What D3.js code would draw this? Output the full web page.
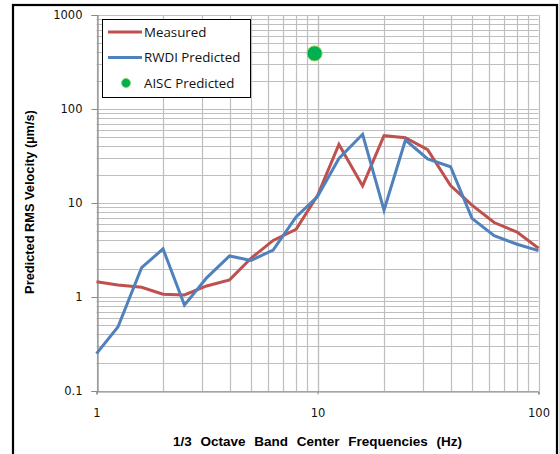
<!DOCTYPE html>
<html>
<head>
<meta charset="utf-8">
<script src="https://cdn.jsdelivr.net/npm/d3@7"></script>
<style>
body { margin: 0; background: #fff; }
</style>
</head>
<body>
<svg id="chart"></svg>
<script>
var width = 559,
	height = 454;
var margin = ({top: 15, right: 20, bottom: 63, left: 96.5});

// 1/3 octave band centre frequencies (Hz)
var freqs = [1, 1.25, 1.6, 2, 2.5, 3.15, 4, 5, 6.3, 8, 10, 12.5, 16, 20, 25, 31.5, 40, 50, 63, 80, 100];
// RMS velocity (um/s)
var measured = [1.45, 1.34, 1.27, 1.07, 1.05, 1.31, 1.52, 2.58, 4.0, 5.25, 12, 42, 15.2, 52, 49.5, 37, 15.3, 9.5, 6.2, 4.9, 3.3];
var rwdi = [0.25, 0.48, 2.05, 3.25, 0.82, 1.6, 2.73, 2.45, 3.16, 7.1, 11.7, 29.8, 53.8, 8.4, 46.8, 29.4, 24.3, 6.87, 4.49, 3.64, 3.11];
var aiscFreq = [9.7];
var aiscValue = [390];

var xTicks = [1, 10, 100];
var yTicks = [0.1, 1, 10, 100, 1000];
var seriesNames = ['Measured', 'RWDI Predicted', 'AISC Predicted'];
var colors = ['#C0504D', '#4F81BD', '#00B050'];

var svg = d3.select('#chart')
	.attr('width', width)
	.attr('height', height);

var x = d3.scaleLog()
	.domain([1, 100])
	.range([margin.left, width - margin.right - 0.5]);

var y = d3.scaleLog()
	.domain([0.1, 1000])
	.range([height - margin.bottom, margin.top]);

// minor + major grid values
var xGrid = [], yGrid = [];
[1, 10].forEach(function(dec){
	for (var k = 1; k <= 10; k++) xGrid.push(dec * k);
});
[0.1, 1, 10, 100].forEach(function(dec){
	for (var k = 1; k <= 10; k++) yGrid.push(+(dec * k).toPrecision(3));
});

// outer frame
svg.append('rect')
	.attr('x', 13)
	.attr('y', 5)
	.attr('width', 544)
	.attr('height', 470)
	.attr('fill', 'none')
	.attr('stroke', 'black')
	.attr('stroke-width', 2.2);

var grid = svg.append('g').attr('class', 'grid');
grid.selectAll('line.v')
	.data(xGrid)
	.join('line')
	.attr('class', 'v')
	.attr('x1', d => Math.round(x(d)) + 0.5)
	.attr('x2', d => Math.round(x(d)) + 0.5)
	.attr('y1', y(1000))
	.attr('y2', y(0.1))
	.attr('stroke', '#bebebe')
	.attr('stroke-width', 1.2);
grid.selectAll('line.h')
	.data(yGrid)
	.join('line')
	.attr('class', 'h')
	.attr('x1', x(1))
	.attr('x2', x(100))
	.attr('y1', d => Math.round(y(d)) + 0.5)
	.attr('y2', d => Math.round(y(d)) + 0.5)
	.attr('stroke', '#bebebe')
	.attr('stroke-width', 1.2);

// axes
var xAxis = g => g
	.attr('transform', 'translate(0,' + (Math.round(y(0.1)) + 0.5) + ')')
	.call(d3.axisBottom(x).tickValues(xTicks).tickFormat(d3.format('d')).tickSize(3).tickPadding(14))
	.call(g => g.select('.domain').attr('stroke', '#8a8a8a').attr('stroke-width', 1.2))
	.call(g => g.selectAll('.tick line').attr('stroke', '#8a8a8a'))
	.call(g => g.selectAll('.tick text')
		.attr('font-family', 'DejaVu Sans')
		.attr('font-size', 11.5)
		.attr('fill', '#111'));

var yAxis = g => g
	.attr('transform', 'translate(' + (Math.round(x(1)) + 0.5) + ',0)')
	.call(d3.axisLeft(y).tickValues(yTicks).tickFormat(d => d3.format('~g')(d)).tickSize(6).tickPadding(9))
	.call(g => g.select('.domain').attr('stroke', '#8a8a8a').attr('stroke-width', 1.2))
	.call(g => g.selectAll('.tick line').attr('stroke', '#8a8a8a'))
	.call(g => g.selectAll('.tick text')
		.attr('font-family', 'DejaVu Sans')
		.attr('font-size', 11.5)
		.attr('fill', '#111'));

svg.append('g').call(xAxis);
svg.append('g').call(yAxis);

// axis titles
svg.append('text')
	.attr('x', (x(1) + x(100)) / 2)
	.attr('y', 446)
	.attr('text-anchor', 'middle')
	.attr('font-family', 'Liberation Sans, Arial')
	.attr('font-weight', 'bold')
	.attr('font-size', 13.5)
	.attr('word-spacing', 5)
	.text('1/3 Octave Band Center Frequencies (Hz)');

svg.append('text')
	.attr('transform', 'translate(34,' + 202 + ') rotate(-90)')
	.attr('text-anchor', 'middle')
	.attr('font-family', 'Liberation Sans, Arial')
	.attr('font-weight', 'bold')
	.attr('font-size', 12.8)
	.text('Predicted RMS Velocity (\u00b5m/s)');

// series lines
var line = d3.line()
	.x((d, i) => x(freqs[i]))
	.y(d => y(d));

[measured, rwdi].forEach(function(s, i){
	svg.append('path')
		.attr('d', line(s))
		.attr('fill', 'none')
		.attr('stroke', colors[i])
		.attr('stroke-width', 3)
		.attr('stroke-linejoin', 'miter');
});

// AISC point
svg.append('g')
	.selectAll('circle')
	.data(aiscValue)
	.join('circle')
	.attr('cx', (d, i) => x(aiscFreq[i]))
	.attr('cy', d => y(d))
	.attr('r', 7.5)
	.attr('fill', colors[2])
	.attr('stroke', '#8fd14f')
	.attr('stroke-width', 1);

// legend
var legend = svg.append('g');
legend.append('rect')
	.attr('x', 102.5)
	.attr('y', 19.5)
	.attr('width', 148)
	.attr('height', 78)
	.attr('fill', 'white')
	.attr('stroke', 'black')
	.attr('stroke-width', 1);

var items = legend.selectAll('g')
	.data(seriesNames)
	.join('g')
	.attr('transform', (d, i) => 'translate(0,' + (32 + i * 25.5) + ')');

items.filter((d, i) => i < 2).append('line')
	.attr('x1', 108)
	.attr('x2', 142)
	.attr('stroke', (d, i) => colors[i])
	.attr('stroke-width', 3);

items.filter((d, i) => i == 2).append('circle')
	.attr('cx', 126)
	.attr('r', 4.5)
	.attr('fill', colors[2])
	.attr('stroke', '#8fd14f')
	.attr('stroke-width', 0.8);

items.append('text')
	.attr('x', 144)
	.attr('y', 4.8)
	.attr('font-family', 'Open Sans')
	.attr('font-size', 13.3)
	.attr('fill', '#111')
	.text(d => d);
</script>
</body>
</html>
